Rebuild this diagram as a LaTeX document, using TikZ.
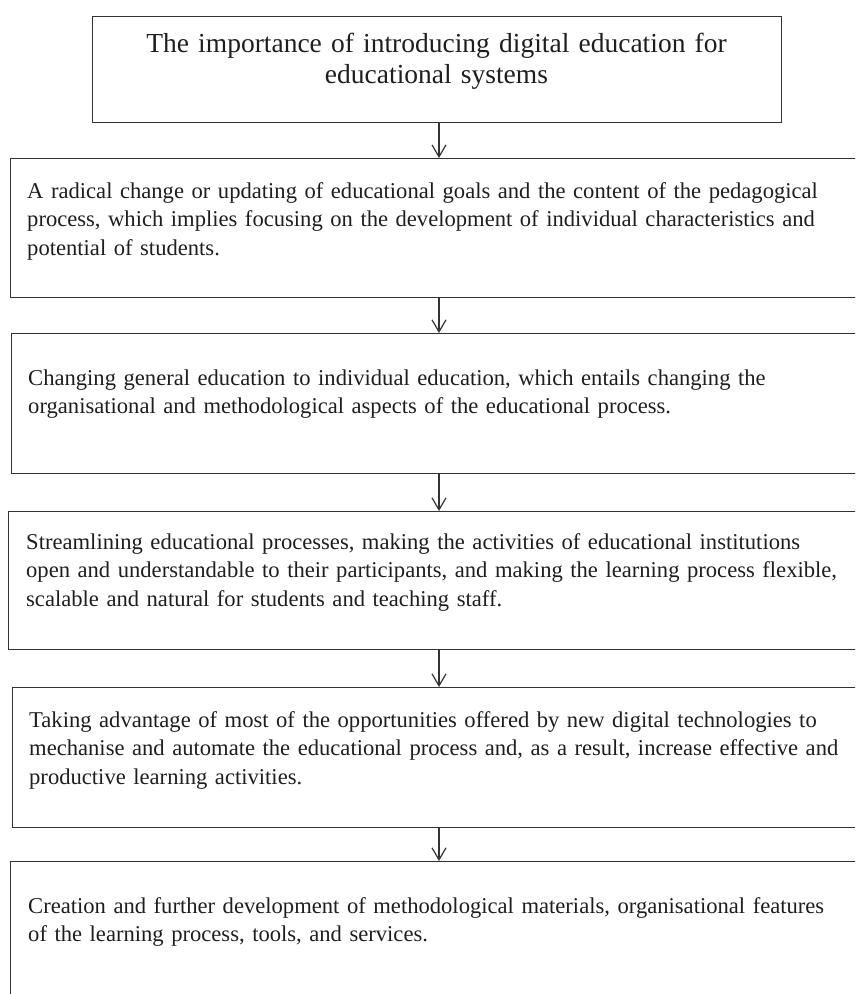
\documentclass[tikz,border=0pt]{standalone}
\usepackage{fontspec}
\setmainfont{Liberation Serif}
\usetikzlibrary{arrows.meta}

\definecolor{linegray}{HTML}{333333}
\definecolor{textgray}{HTML}{1E1E1E}

\tikzset{
  box/.style={draw=linegray, line width=1.3pt, rectangle, inner sep=0pt, anchor=north west},
  headline/.style={anchor=base, inner sep=0pt, text width=700pt, align=center, text=textgray,
    font=\fontsize{27.5}{31}\selectfont},
  body/.style={anchor=base west, inner sep=0pt, text width=840pt, align=left, text=textgray,
    font=\fontsize{22.6}{28.5}\selectfont},
  arr/.style={draw=linegray, line width=1.2pt, arrows={-Straight Barb[length=12pt,width=14pt]}}
}

\begin{document}
\begin{tikzpicture}[x=1pt,y=-1pt]

\useasboundingbox (0,0) rectangle (855,994);
\clip (0,0) rectangle (855,994);

% x of all arrows
\def\ax{439}
% right edge of the boxes, behind the border of the page
\def\xr{880}

\node[box, minimum width=689pt, minimum height=106pt] (head) at (92,16) {};
\node[headline] (headtext) at (436.5,52) {The importance of introducing digital education for\\
educational systems};

% boxes of the list
\foreach \n/\xl/\yt/\yb in {s1/10/158/297, s2/11/333/473, s3/8/511/649, s4/12/687/827, s5/10/861/1020} {
  \pgfmathsetmacro{\w}{\xr-\xl}
  \pgfmathsetmacro{\h}{\yb-\yt}
  \node[box, minimum width=\w pt, minimum height=\h pt] (\n) at (\xl,\yt) {};
}

\node[body] (t1) at (27,198) {A radical change or updating of educational goals and the content of the pedagogical\\
process, which implies focusing on the development of individual characteristics and\\
potential of students.};

\node[body] (t2) at (28,385) {Changing general education to individual education, which entails changing the\\
organisational and methodological aspects of the educational process.};

\node[body] (t3) at (26,549) {Streamlining educational processes, making the activities of educational institutions\\
open and understandable to their participants, and making the learning process flexible,\\
scalable and natural for students and teaching staff.};

\node[body] (t4) at (29,727) {Taking advantage of most of the opportunities offered by new digital technologies to\\
mechanise and automate the educational process and, as a result, increase effective and\\
productive learning activities.};

\node[body] (t5) at (28,913) {Creation and further development of methodological materials, organisational features\\
of the learning process, tools, and services.};

% arrows
\coordinate (ax) at (\ax,0);
\draw[arr] (head.south -| ax) -- (s1.north -| ax);
\foreach \a/\b in {s1/s2,s2/s3,s3/s4,s4/s5}
  \draw[arr] (\a.south -| ax) -- (\b.north -| ax);

\end{tikzpicture}
\end{document}
